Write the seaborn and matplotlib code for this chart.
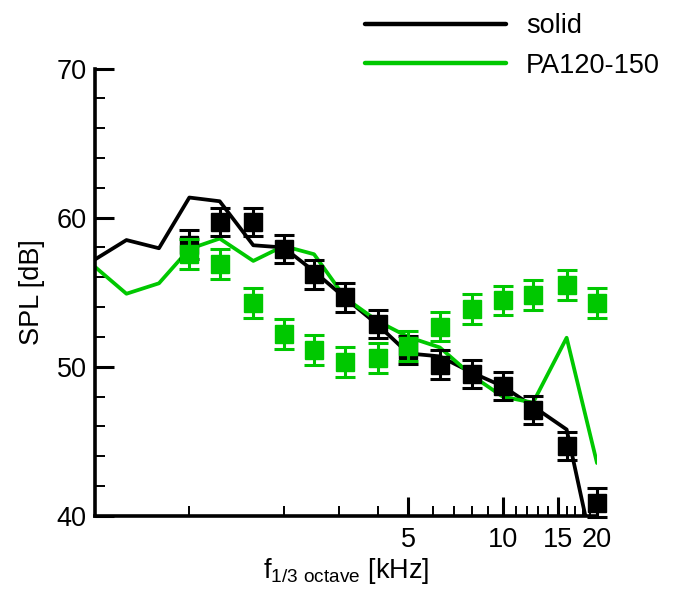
import numpy as np
import pandas as pd
import matplotlib
matplotlib.use("Agg")
import matplotlib.pyplot as plt
import seaborn as sns
from matplotlib.ticker import FixedLocator, FixedFormatter, NullFormatter

sns.set_theme(style="ticks")
plt.rcParams['font.family'] = ['Liberation Sans', 'DejaVu Sans']
plt.rcParams['mathtext.fontset'] = 'custom'
plt.rcParams['mathtext.rm'] = 'Liberation Sans'
plt.rcParams['text.color'] = 'black'
plt.rcParams['axes.labelcolor'] = 'black'

# ---- data ----
line_freq = [0.5, 0.63, 0.8, 1.0, 1.25, 1.6, 2.0, 2.5, 3.15, 4.0, 5.0, 6.3, 8.0, 10.0, 12.5, 16.0, 20.0]
solid_line = [57.2, 58.5, 57.95, 61.35, 61.1, 58.15, 58.0, 56.4, 54.6, 52.8, 50.9, 50.7, 49.6, 48.7, 47.35, 45.8, 36.4]
pa_line = [56.7, 54.9, 55.6, 57.9, 58.6, 57.1, 58.1, 57.55, 54.6, 53.05, 52.0, 51.3, 49.4, 48.0, 47.6, 51.95, 43.55]

exp_freq = [1.0, 1.25, 1.6, 2.0, 2.5, 3.15, 4.0, 5.0, 6.3, 8.0, 10.0, 12.5, 16.0, 20.0]
solid_exp = [58.2, 59.7, 59.7, 57.9, 56.2, 54.65, 52.85, 51.15, 50.15, 49.5, 48.7, 47.1, 44.7, 40.9]
pa_exp = [57.55, 56.9, 54.3, 52.2, 51.15, 50.3, 50.6, 51.4, 52.7, 53.9, 54.45, 54.8, 55.5, 54.3]
solid_err = [0.95] * len(exp_freq)
pa_err = [1.0] * len(exp_freq)

series_labels = ["solid", "PA120-150"]
xtick_major = [5, 10, 15, 20]
xtick_minor = [1, 2, 3, 4, 6, 7, 8, 9, 11, 12, 13, 14, 16, 17, 18, 19]
ytick_major = [40, 50, 60, 70]
ytick_minor = [42, 44, 46, 48, 52, 54, 56, 58, 62, 64, 66, 68]

black = "#000000"
green = "#00C800"

fig = plt.figure(figsize=(6.79, 5.89), dpi=100)
ax = fig.add_axes([95/679, 1-516/589, 502/679, 447.5/589])

df_line = pd.DataFrame({
    "f": line_freq * 2,
    "spl": solid_line + pa_line,
    "case": [series_labels[0]] * len(line_freq) + [series_labels[1]] * len(line_freq),
})
sns.lineplot(data=df_line, x="f", y="spl", hue="case", palette=[black, green],
             linewidth=2.7, ax=ax, sort=False, estimator=None)

for yv, err, col, z in [(solid_exp, solid_err, black, 4), (pa_exp, pa_err, green, 5)]:
    ax.errorbar(exp_freq, yv, yerr=err, fmt='s', color=col, ms=13.5, mfc=col, mec=col,
                ecolor=col, elinewidth=2.2, capsize=7, capthick=2.2,
                clip_on=False, zorder=z)

ax.set_xscale('log')
ax.set_xlim(0.5, 20)
ax.set_ylim(40, 70)

ax.xaxis.set_major_locator(FixedLocator(xtick_major))
ax.xaxis.set_major_formatter(FixedFormatter([str(v) for v in xtick_major]))
ax.xaxis.set_minor_locator(FixedLocator(xtick_minor))
ax.xaxis.set_minor_formatter(NullFormatter())
ax.yaxis.set_major_locator(FixedLocator(ytick_major))
ax.yaxis.set_minor_locator(FixedLocator(ytick_minor))

for s in ['top', 'right']:
    ax.spines[s].set_visible(False)
for s in ['left', 'bottom']:
    ax.spines[s].set_linewidth(2.6)
    ax.spines[s].set_color('black')

ax.tick_params(which='major', direction='in', length=14, width=2.2, labelsize=19.5,
               colors='black', pad=6)
ax.tick_params(which='minor', direction='in', length=7, width=1.4, colors='black')
ax.tick_params(axis='x', which='major', pad=8)

ax.set_ylabel("SPL [dB]", fontsize=19.5, labelpad=8, color='black')
ax.set_xlabel(r"f$_{\mathregular{1/3\ octave}}$ [kHz]", fontsize=19.5, labelpad=2, color='black')

handles, labels = ax.get_legend_handles_labels()
for h in handles:
    h.set_linewidth(3.2)
leg = ax.legend(handles, labels, loc='upper left', bbox_to_anchor=(365/679, 1-13/589),
                bbox_transform=fig.transFigure, frameon=False, fontsize=19.5,
                handlelength=5.2, handletextpad=0.75, labelspacing=0.5,
                borderpad=0, borderaxespad=0)
for t in leg.get_texts():
    t.set_color('black')
ax.grid(False)

fig.savefig("out.png", dpi=100)
